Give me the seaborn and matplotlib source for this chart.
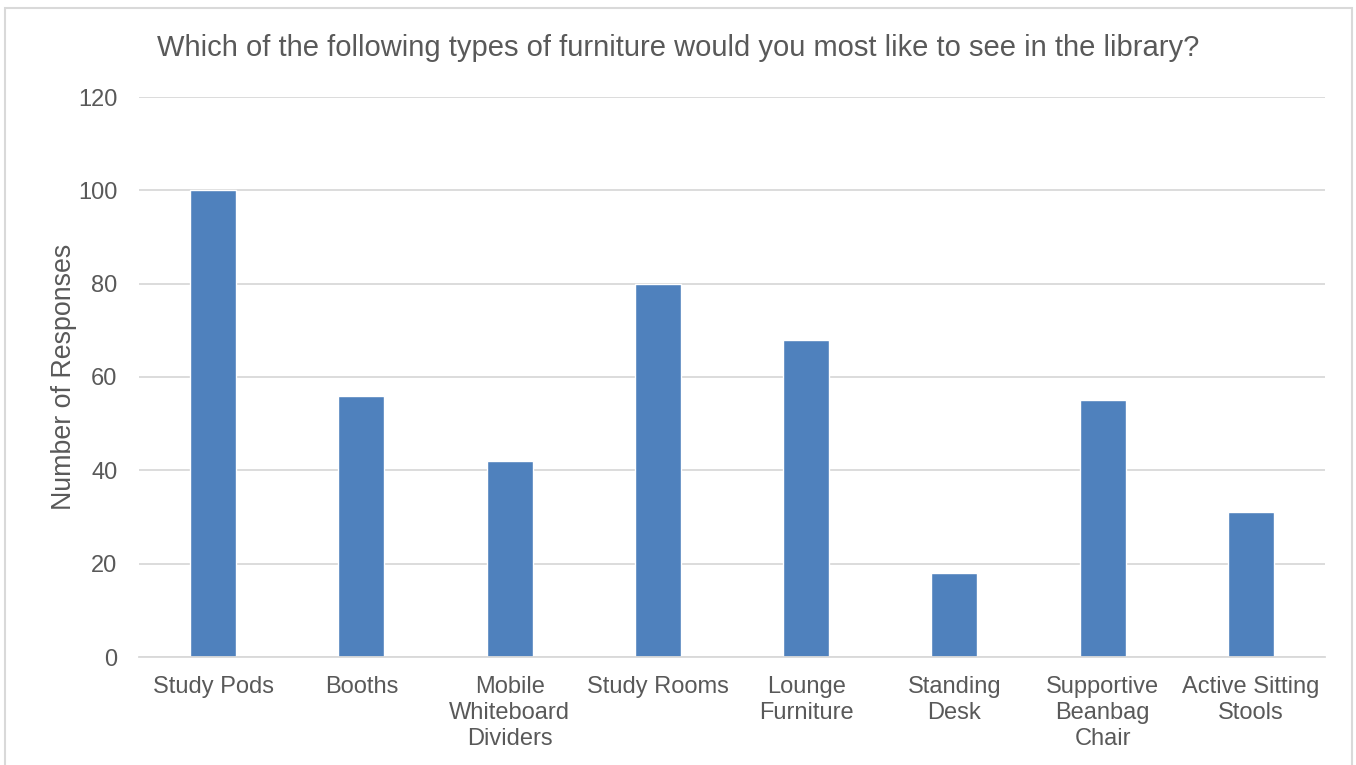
import matplotlib
matplotlib.use("Agg")
import matplotlib.pyplot as plt
from matplotlib.patches import Rectangle
import seaborn as sns
import pandas as pd

categories = ["Study Pods", "Booths", "Mobile\nWhiteboard\nDividers", "Study Rooms",
              "Lounge\nFurniture", "Standing\nDesk", "Supportive\nBeanbag\nChair",
              "Active Sitting\nStools"]
responses = [100, 56, 42, 80, 68, 18, 55, 31]
y_ticks = [0, 20, 40, 60, 80, 100, 120]

title = "Which of the following types of furniture would you most like to see in the library?"
y_label = "Number of Responses"

TEXT = "#595959"
GRID = "#D9D9D9"
BAR = "#4F81BD"

sns.set_theme(style="white")
plt.rcParams["font.family"] = ["Liberation Sans", "DejaVu Sans"]

fig = plt.figure(figsize=(13.56, 7.65), dpi=100)
ax = fig.add_axes([139 / 1356, 1 - 657 / 765, (1325 - 139) / 1356, (657 - 97) / 765])

df = pd.DataFrame({"category": categories, "responses": responses})
sns.barplot(data=df, x="category", y="responses", color=BAR, saturation=1,
            width=0.31, ax=ax, zorder=3)

ax.set_ylim(0, 120)
ax.set_yticks(y_ticks)
ax.set_yticklabels([str(t) for t in y_ticks])
ax.yaxis.grid(True, color=GRID, linewidth=1.3, zorder=0)
ax.set_axisbelow(True)
for side in ["top", "right", "left"]:
    ax.spines[side].set_visible(False)
ax.spines["bottom"].set_color(GRID)
ax.spines["bottom"].set_linewidth(1.3)
ax.spines["bottom"].set_zorder(4)

ax.tick_params(axis="both", length=0, colors=TEXT, labelsize=17)
ax.tick_params(axis="y", pad=15.5)
ax.tick_params(axis="x", pad=14)
for lbl in ax.get_xticklabels():
    lbl.set_linespacing(1.22)
    lbl.set_color(TEXT)

ax.set_xlabel("")
ax.set_ylabel(y_label, fontsize=19.3, color=TEXT, labelpad=0.5)

fig.text(678 / 1356, 1 - 48 / 765, title, ha="center", va="center",
         fontsize=21, color=TEXT)

# light chart-area frame
fig.patches.append(Rectangle((5 / 1356, -0.1), (1352 - 5) / 1356, 1.1 - 8 / 765,
                             transform=fig.transFigure, fill=False,
                             edgecolor=GRID, linewidth=1.5))

fig.savefig("out.png", dpi=100)
